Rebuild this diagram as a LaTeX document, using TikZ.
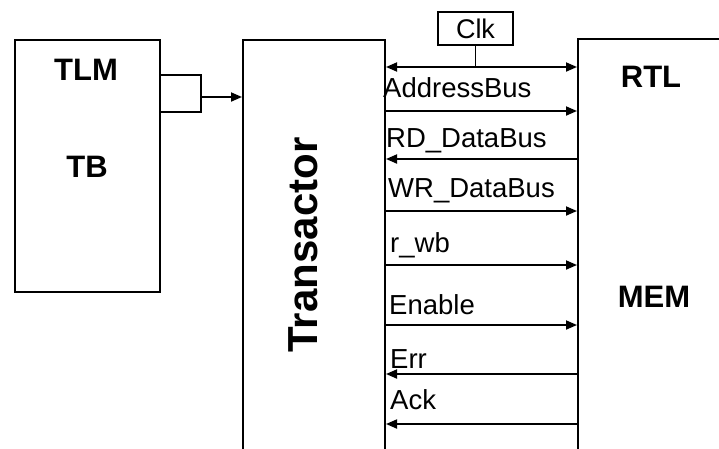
\documentclass[tikz,border=0pt]{standalone}
\usepackage{fontspec}
\setmainfont{Liberation Sans}
\usetikzlibrary{arrows.meta}
\begin{document}
\begin{tikzpicture}[x=1pt,y=-1pt,
  blockbox/.style={draw,line width=2pt,rectangle,inner sep=0pt,anchor=north west},
  title/.style={font=\fontsize{31}{31}\selectfont\bfseries,inner sep=0pt},
  sig/.style={font=\fontsize{27.5}{27.5}\selectfont,inner sep=0pt,anchor=base west},
  bus/.style={line width=1.8pt,-{Triangle[length=11pt,width=9pt]}},
  busback/.style={line width=1.8pt,{Triangle[length=11pt,width=9pt]}-},
  busboth/.style={line width=1.8pt,{Triangle[length=11pt,width=9pt]}-{Triangle[length=11pt,width=9pt]}}]
\useasboundingbox (0,0) rectangle (719,448);

% testbench block with its port
\node[blockbox,minimum width=145pt,minimum height=252pt] (tb) at (14,39) {};
\node[blockbox,minimum width=41pt,minimum height=37pt] (port) at (159,74) {};
\node[title] (tlm) at (86,70) {TLM};
\node[title] (tbl) at (87,167) {TB};

% transactor, running past the bottom of the page
\node[blockbox,minimum width=142pt,minimum height=430pt] (trans) at (242,39) {};
\node[font=\fontsize{42}{42}\selectfont\bfseries,rotate=90,inner sep=0pt] (tlabel) at (303,245) {Transactor};

% RTL memory, running past the right edge
\node[blockbox,minimum width=160pt,minimum height=430pt] (rtl) at (577,38) {};
\node[title] (rtll) at (651,77) {RTL};
\node[title] (mem) at (654,297) {MEM};

% clock source
\node[draw,line width=1.8pt,minimum width=75pt,minimum height=33pt,inner sep=0pt,
      font=\fontsize{27}{27}\selectfont] (clk) at (475.5,28.5) {Clk};

\draw[bus] (port.east |- 0,97) -- (trans.west |- 0,97);

% signals between transactor and memory
\draw[busboth] (trans.east |- 0,67) -- (rtl.west |- 0,67);
\coordinate (clkj) at (clk.south |- 0,67);
\draw[line width=1.8pt] (clk.south) -- (clkj);

\node[sig] (la) at (383,97) {AddressBus};
\draw[bus] (trans.east |- 0,111) -- (rtl.west |- 0,111);

\node[sig] (lrd) at (386,147) {RD\_DataBus};
\draw[busback] (trans.east |- 0,159) -- (rtl.west |- 0,159);

\node[sig] (lwr) at (388,197) {WR\_DataBus};
\draw[bus] (trans.east |- 0,211) -- (rtl.west |- 0,211);

\node[sig] (lrw) at (390,252) {r\_wb};
\draw[bus] (trans.east |- 0,265) -- (rtl.west |- 0,265);

\node[sig] (len) at (389,314) {Enable};
\draw[bus] (trans.east |- 0,325) -- (rtl.west |- 0,325);

\node[sig] (ler) at (390,368) {Err};
\draw[busback] (trans.east |- 0,374) -- (rtl.west |- 0,374);

\node[sig] (lack) at (390,409) {Ack};
\draw[busback] (trans.east |- 0,424) -- (rtl.west |- 0,424);
\end{tikzpicture}
\end{document}
